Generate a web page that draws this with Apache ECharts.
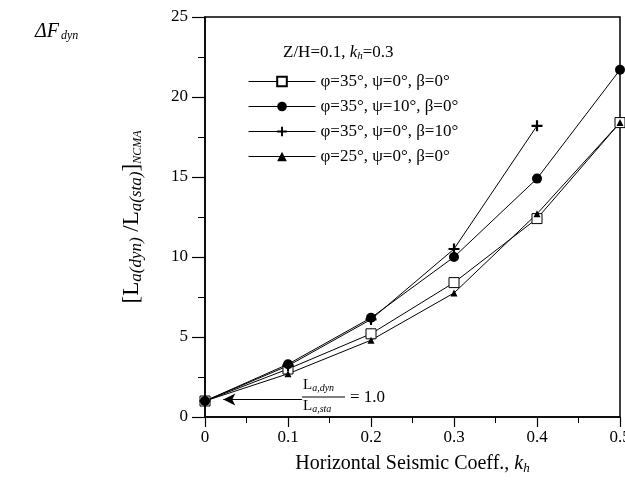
<!DOCTYPE html>
<html><head><meta charset="utf-8">
<script src="https://cdn.jsdelivr.net/npm/echarts@6/dist/echarts.min.js"></script>
<style>html,body{margin:0;padding:0;background:#fff}#c{width:625px;height:488px}</style>
</head><body><div id="c"></div>
<script>
const xTicks = [0, 0.1, 0.2, 0.3, 0.4, 0.5];
const seriesNames = ['φ=35°, ψ=0°, β=0°', 'φ=35°, ψ=10°, β=0°', 'φ=35°, ψ=0°, β=10°', 'φ=25°, ψ=0°, β=0°'];
const kh_s1 = [0, 0.1, 0.2, 0.3, 0.4, 0.5];
const val_s1 = [1.0, 3.0, 5.2, 8.4, 12.4, 18.4];
const kh_s2 = [0, 0.1, 0.2, 0.3, 0.4, 0.5];
const val_s2 = [1.0, 3.3, 6.2, 10.0, 14.9, 21.7];
const kh_s3 = [0, 0.1, 0.2, 0.3, 0.4];
const val_s3 = [1.0, 3.2, 6.1, 10.5, 18.2];
const kh_s4 = [0, 0.1, 0.2, 0.3, 0.4, 0.5];
const val_s4 = [1.0, 2.7, 4.8, 7.75, 12.7, 18.4];
const arrowFrom = [0.117, 1.1];
const arrowTo = [0.022, 1.1];

const F = 'Liberation Serif';
const zip = (a, b) => a.map((v, i) => [v, b[i]]);
const plusPath = 'path://M4,0H6V4H10V6H6V10H4V6H0V4H4Z';

const chart = echarts.init(document.getElementById('c'));
const common = {type: 'line', clip: false, lineStyle: {color: '#000', width: 1}, itemStyle: {color: '#000'}, z: 3};
chart.setOption({
  animation: false,
  backgroundColor: '#fff',
  grid: {left: 205, right: 5, top: 17, bottom: 71, outerBoundsMode: 'none', containLabel: false, show: true, borderColor: '#000', borderWidth: 1.5, backgroundColor: 'transparent'},
  legend: {
    orient: 'vertical', left: 243, top: 68, itemWidth: 67, itemHeight: 12, itemGap: 8,
    lineStyle: {width: 1},
    textStyle: {fontFamily: F, fontSize: 17, color: '#000'},
    data: seriesNames
  },
  xAxis: {
    type: 'value', min: 0, max: 0.5, interval: 0.1,
    axisLine: {lineStyle: {color: '#000', width: 1.5}},
    axisTick: {length: 10, lineStyle: {color: '#000', width: 1.2}},
    minorTick: {show: true, splitNumber: 2, length: 6, lineStyle: {color: '#000'}},
    splitLine: {show: false},
    axisLabel: {fontFamily: F, fontSize: 17, color: '#000', margin: 12, formatter: v => String(+v.toFixed(1))},
    name: 'Horizontal Seismic Coeff., {i|k}{sub|h}', nameLocation: 'middle', nameGap: 35,
    nameTextStyle: {fontFamily: F, fontSize: 20, color: '#000',
      rich: {i: {fontFamily: F, fontSize: 20, fontStyle: 'italic', color: '#000'}, sub: {fontFamily: F, fontSize: 13, fontStyle: 'italic', color: '#000', padding: [10, 0, 0, 0]}}}
  },
  yAxis: {
    type: 'value', min: 0, max: 25, interval: 5,
    axisLine: {lineStyle: {color: '#000', width: 1.5}},
    axisTick: {length: 13, lineStyle: {color: '#000', width: 1.2}},
    minorTick: {show: true, splitNumber: 2, length: 7, lineStyle: {color: '#000'}},
    splitLine: {show: false},
    axisLabel: {fontFamily: F, fontSize: 17, color: '#000', margin: 17},
    name: '[L{sub|a(dyn)} /L{sub|a(sta)}]{sub2|NCMA}', nameLocation: 'middle', nameRotate: 90, nameGap: 60,
    nameTextStyle: {fontFamily: F, fontSize: 23, color: '#000',
      rich: {sub: {fontFamily: F, fontSize: 17, fontStyle: 'italic', color: '#000', padding: [10, 0, 0, 0]},
             sub2: {fontFamily: F, fontSize: 12, fontStyle: 'italic', color: '#000', padding: [12, 0, 0, 0]}}}
  },
  series: [
    Object.assign({}, common, {name: seriesNames[0], data: zip(kh_s1, val_s1), symbol: 'rect', symbolSize: 10, itemStyle: {color: '#fff', borderColor: '#000', borderWidth: 1}}),
    Object.assign({}, common, {name: seriesNames[1], data: zip(kh_s2, val_s2), symbol: 'circle', symbolSize: 10}),
    Object.assign({}, common, {name: seriesNames[2], data: zip(kh_s3, val_s3), symbol: plusPath, symbolSize: 11}),
    Object.assign({}, common, {name: seriesNames[3], data: zip(kh_s4, val_s4), symbol: 'triangle', symbolSize: 7,
      markLine: {silent: true, symbol: ['none', 'arrow'], symbolSize: [9, 12], label: {show: false},
        lineStyle: {color: '#000', width: 1, type: 'solid'},
        data: [[{coord: arrowFrom}, {coord: arrowTo}]]}})
  ],
  graphic: [
    {type: 'text', left: 35, top: 22, style: {text: '{a|ΔF}{b|dyn}', rich: {a: {fontFamily: F, fontSize: 20, fontStyle: 'italic', fill: '#000'}, b: {fontFamily: F, fontSize: 12, fontStyle: 'italic', fill: '#000', padding: [8, 0, 0, 2]}}}},
    {type: 'text', left: 283, top: 44, style: {text: 'Z/H=0.1, {i|k}{s|h}=0.3', fontFamily: F, fontSize: 17, fill: '#000', rich: {i: {fontFamily: F, fontSize: 17, fontStyle: 'italic', fill: '#000'}, s: {fontFamily: F, fontSize: 11, fontStyle: 'italic', fill: '#000', padding: [8, 0, 0, 0]}}}},
    {type: 'text', left: 303, top: 378, style: {text: 'L{s|a,dyn}', fontFamily: F, fontSize: 15, fill: '#000', rich: {s: {fontFamily: F, fontSize: 10, fontStyle: 'italic', fill: '#000', padding: [5, 0, 0, 0]}}}},
    {type: 'line', shape: {x1: 302, y1: 397, x2: 345, y2: 397}, style: {stroke: '#000', lineWidth: 1}},
    {type: 'text', left: 303, top: 399, style: {text: 'L{s|a,sta}', fontFamily: F, fontSize: 15, fill: '#000', rich: {s: {fontFamily: F, fontSize: 10, fontStyle: 'italic', fill: '#000', padding: [5, 0, 0, 0]}}}},
    {type: 'text', left: 350, top: 389, style: {text: '= 1.0', fontFamily: F, fontSize: 17, fill: '#000'}}
  ]
});
</script></body></html>
